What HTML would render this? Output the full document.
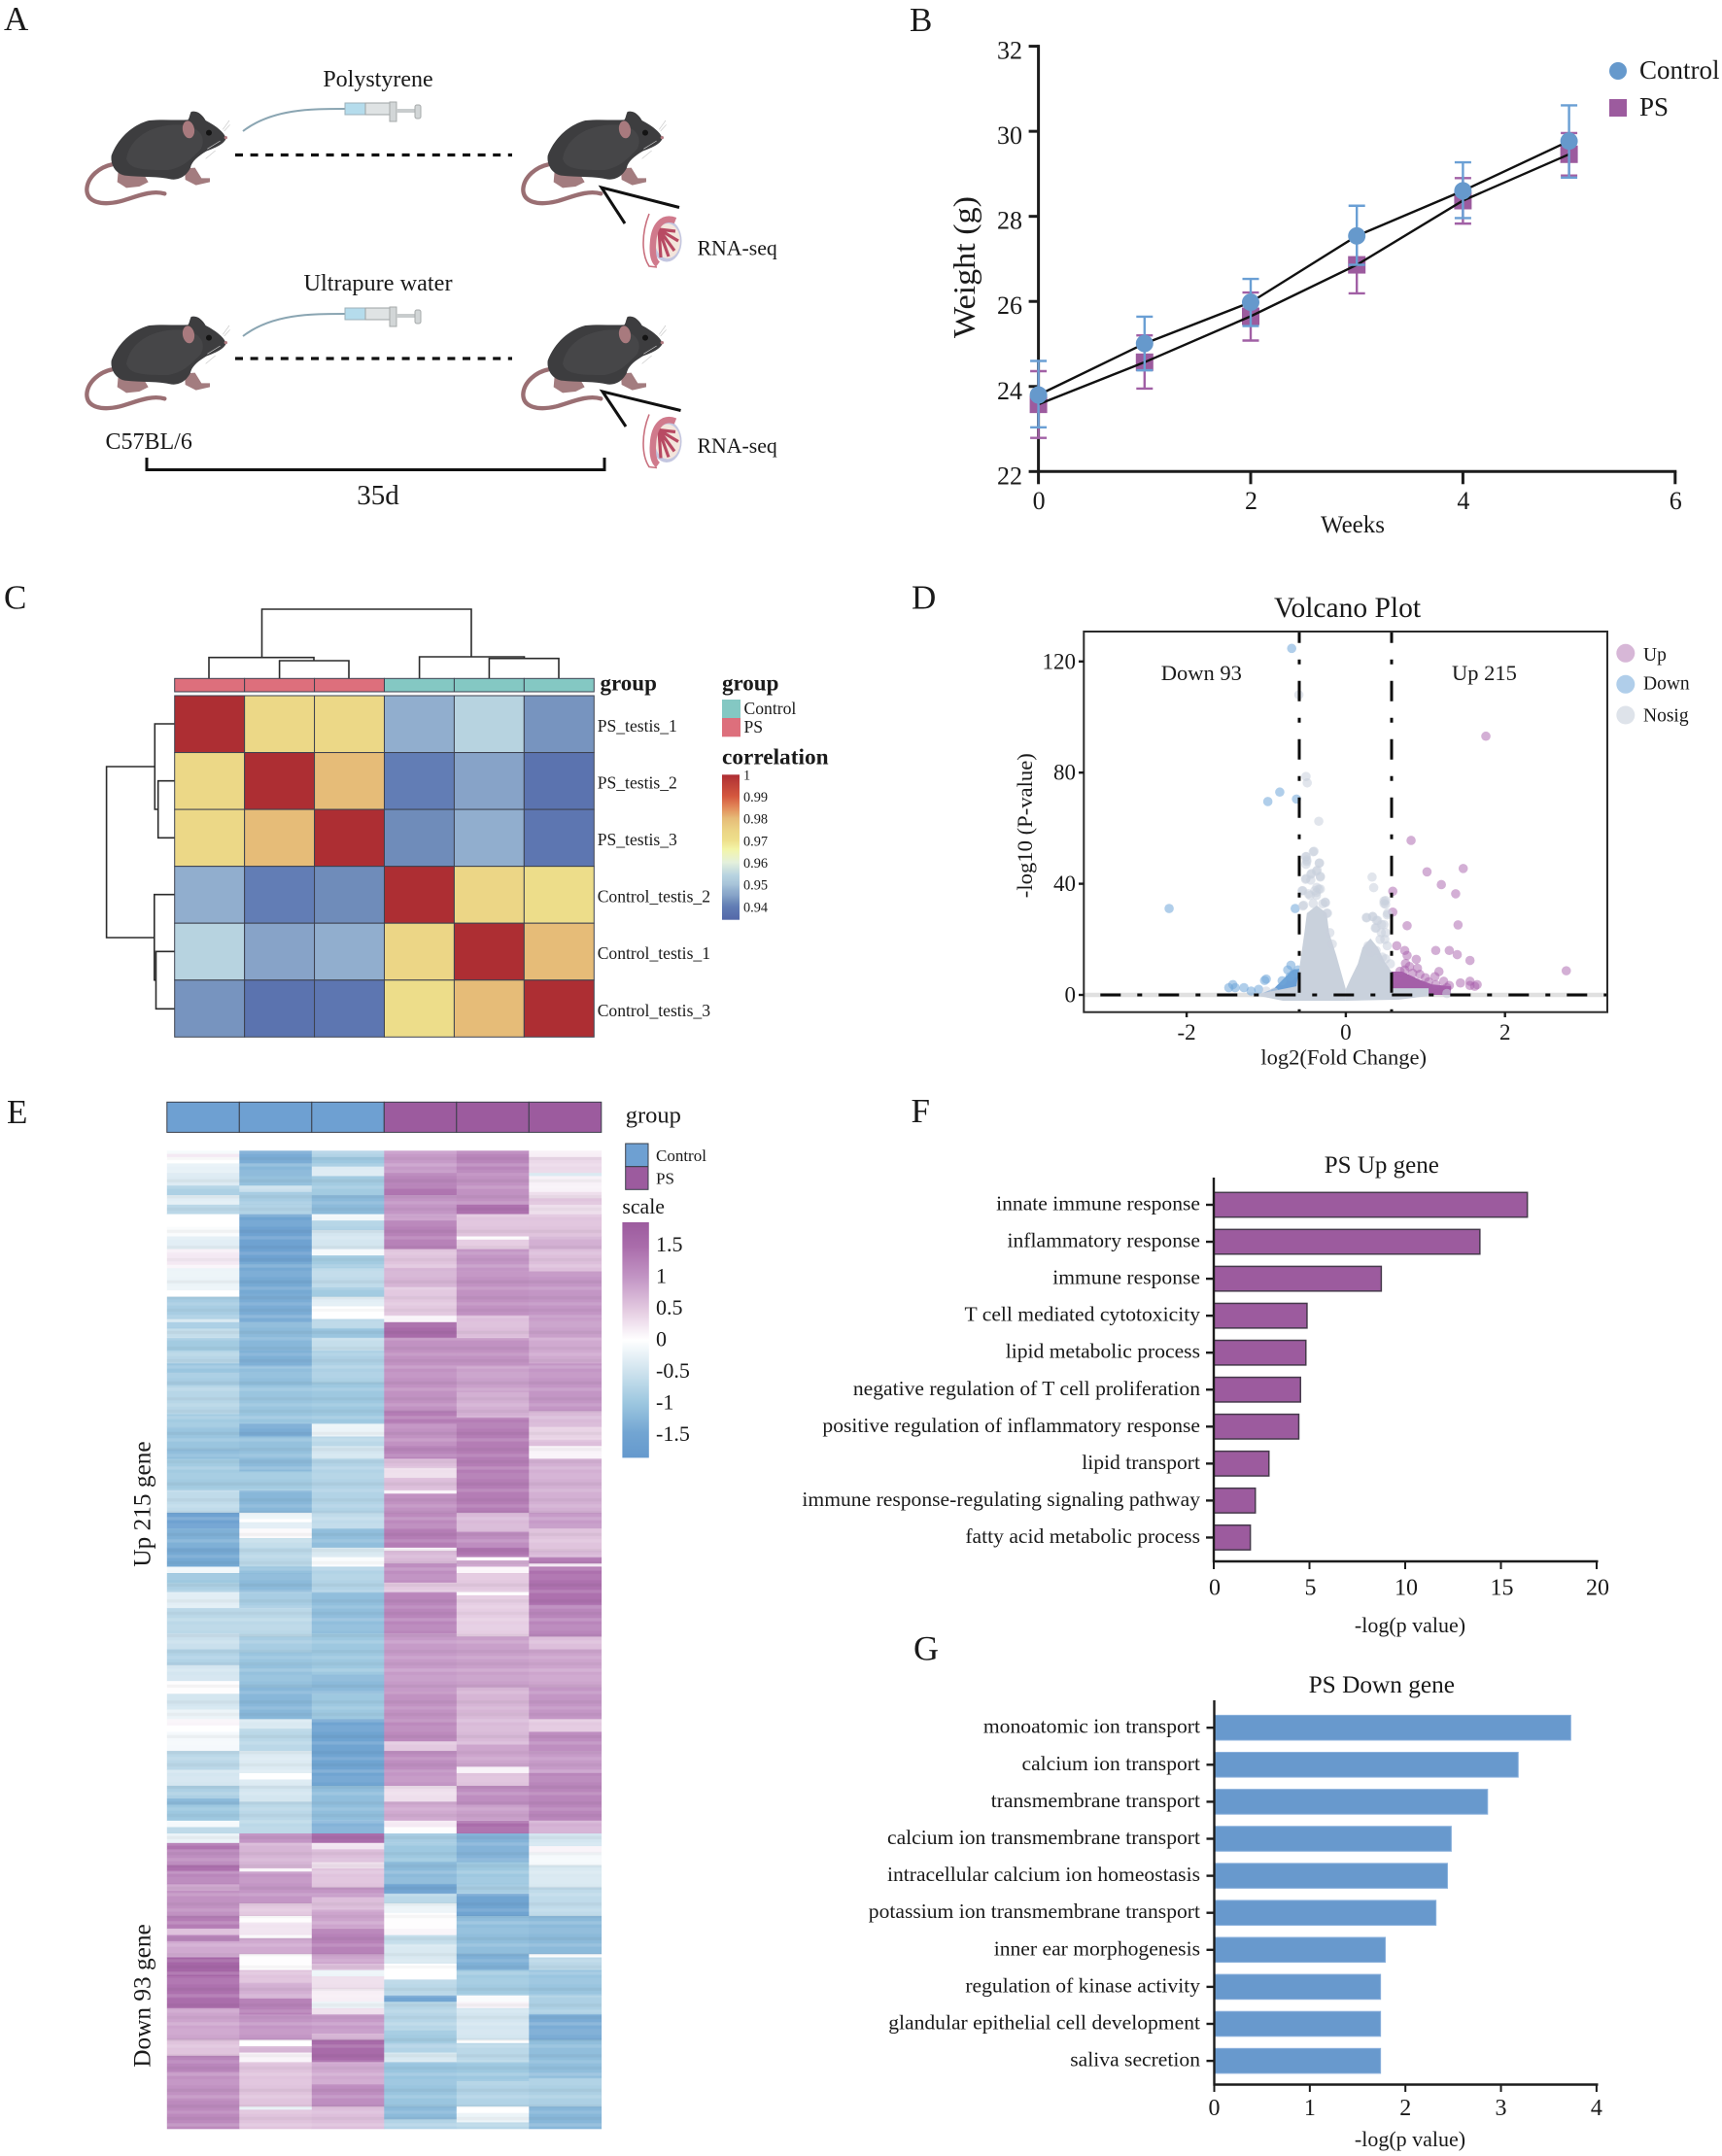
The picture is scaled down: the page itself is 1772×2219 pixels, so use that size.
<!DOCTYPE html>
<html lang="en">
<head>
<meta charset="utf-8">
<title>Polystyrene RNA-seq multi-panel figure</title>
<style>
html,body{margin:0;padding:0;background:#fff;}
svg{display:block;}
text{font-family:"Liberation Serif","Times New Roman",serif;fill:#1a1a1a;}
</style>
</head>
<body>
<svg id="fig" xmlns="http://www.w3.org/2000/svg" width="1772" height="2219" viewBox="0 0 1772 2219">
<defs>
  <g id="mouse">
    <path d="M105 208 C70 215 30 245 28 285 C28 325 75 335 130 322 C175 310 225 285 268 298" fill="none" stroke="#9a6f73" stroke-width="13" stroke-linecap="round"/>
    <path d="M125 228 L122 262 L150 280 L190 276 L218 262 L205 240 Z" fill="#a37c7f"/>
    <path d="M330 220 L332 255 L365 272 L408 262 L408 250 L382 250 L362 218 Z" fill="#a37c7f"/>
    <path d="M458 128 C455 112 430 90 395 72 C385 55 370 40 350 45 C345 55 345 65 340 70 C300 72 260 68 220 72 C170 85 125 125 104 180 C100 210 118 236 145 242 C200 248 250 244 290 254 C320 256 338 238 348 218 C352 198 372 182 397 167 C422 157 450 147 458 128 Z" fill="#3d3d3f"/>
    <path d="M150 190 C160 130 220 85 310 85 C370 85 400 120 380 160 C350 190 330 215 280 225 C210 225 160 225 150 190 Z" fill="#464648"/>
    <ellipse cx="342" cy="100" rx="18" ry="27" transform="rotate(-10 342 100)" fill="#a87a7e"/>
    <circle cx="405" cy="110" r="9" fill="#141414"/>
    <circle cx="457" cy="125" r="5" fill="#b07a80"/>
    <path d="M448 100 L468 72 M452 105 L470 85 M400 160 L440 135 M395 190 L425 165" stroke="#c9c9c9" stroke-width="2" fill="none"/>
  </g>
  <g id="syringe">
    <path d="M250 135 C280 112 320 112 355 112" fill="none" stroke="#8aa5b2" stroke-width="2"/>
    <rect x="355" y="106" width="21" height="12" fill="#b5dcec" stroke="#9db1ba"/>
    <rect x="376" y="106" width="25" height="12" fill="#dfe3e4" stroke="#9ea3a5"/>
    <rect x="401" y="105" width="7" height="20" fill="#d2d6d7" stroke="#a5a9aa"/>
    <rect x="408" y="112" width="19" height="4" fill="#c8cccd"/>
    <rect x="427" y="108" width="6" height="14" rx="2" fill="#d2d6d7" stroke="#a5a9aa"/>
  </g>
  <g id="testis">
    <path d="M668 220 C660 240 660 262 668 274 L676 275" fill="none" stroke="#c9717f" stroke-width="1.6"/>
    <ellipse cx="686" cy="248" rx="15.5" ry="21.5" fill="#c3c6e0"/>
    <ellipse cx="687" cy="248" rx="13" ry="18" fill="#f3e5dc"/>
    <path d="M678 236 L695 238 M678 236 L698 248 M678 236 L694 258 M678 236 L688 264 M678 236 L680 265" stroke="#b84a63" stroke-width="3.2" fill="none"/>
    <path d="M695 227 C682 222 673 232 672 250 C671 262 673 269 677 272" fill="none" stroke="#d07a8c" stroke-width="6.5"/>
  </g>
  <pattern id="streaks" patternUnits="userSpaceOnUse" x="0" y="1184.3" width="10" height="52">
    <rect x="0" y="0" width="10" height="3.3" fill="#fff" fill-opacity="0.1"/>
    <rect x="0" y="6.5" width="10" height="3.3" fill="#000" fill-opacity="0.03"/>
    <rect x="0" y="13" width="10" height="3.3" fill="#fff" fill-opacity="0.14"/>
    <rect x="0" y="19.6" width="10" height="6.5" fill="#fff" fill-opacity="0.06"/>
    <rect x="0" y="29.4" width="10" height="3.3" fill="#000" fill-opacity="0.04"/>
    <rect x="0" y="36" width="10" height="3.3" fill="#fff" fill-opacity="0.12"/>
    <rect x="0" y="45.8" width="10" height="3.3" fill="#000" fill-opacity="0.035"/>
  </pattern>
</defs>

<!-- PANEL A -->
<g id="panel-a">
  <text x="4" y="31" font-size="35">A</text>
  <use href="#mouse" transform="translate(80,100) scale(0.3333)"/>
  <use href="#mouse" transform="translate(529,100) scale(0.3333)"/>
  <use href="#mouse" transform="translate(80,311) scale(0.3333)"/>
  <use href="#mouse" transform="translate(529,311) scale(0.3333)"/>
  <use href="#syringe"/>
  <use href="#syringe" transform="translate(0,211)"/>
  <text x="389" y="89" font-size="24" text-anchor="middle">Polystyrene</text>
  <text x="389" y="299" font-size="24.3" text-anchor="middle">Ultrapure water</text>
  <line x1="242" y1="159.5" x2="527" y2="159.5" stroke="#111" stroke-width="3.2" stroke-dasharray="8 7.6"/>
  <line x1="242" y1="369" x2="527" y2="369" stroke="#111" stroke-width="3.2" stroke-dasharray="8 7.6"/>
  <path d="M699 213.5 L619 193 L643 230" fill="none" stroke="#111" stroke-width="3"/>
  <path d="M700.5 422.5 L620 403 L644 439" fill="none" stroke="#111" stroke-width="3"/>
  <use href="#testis"/>
  <use href="#testis" transform="translate(0,206.5)"/>
  <text x="717.5" y="262.5" font-size="21.8">RNA-seq</text>
  <text x="717.5" y="466" font-size="21.8">RNA-seq</text>
  <text x="108.5" y="462" font-size="24">C57BL/6</text>
  <path d="M151 471 V483.5 H622 V471" fill="none" stroke="#111" stroke-width="3"/>
  <text x="389" y="519" font-size="29" text-anchor="middle">35d</text>
</g>

<!-- PANEL B -->
<g id="panel-b">
  <text x="936" y="32" font-size="35">B</text>
  <text transform="translate(1003,275) rotate(-90)" font-size="32" text-anchor="middle" textLength="146" lengthAdjust="spacingAndGlyphs">Weight (g)</text>
  <text x="1392" y="548" font-size="25" text-anchor="middle">Weeks</text>
  <circle cx="1665" cy="73" r="9" fill="#6699cc"/>
  <rect x="1656" y="102" width="18" height="18" fill="#9c5b9e"/>
  <text x="1687" y="81" font-size="27">Control</text>
  <text x="1687" y="119" font-size="27">PS</text>
</g>

<!-- PANEL C -->
<g id="panel-c">
  <text x="4" y="626.7" font-size="35">C</text>
  <text x="617.5" y="710.7" font-size="23" font-weight="bold">group</text>
  <text x="743" y="710.7" font-size="23" font-weight="bold">group</text>
  <rect x="743" y="720" width="19" height="19" fill="#84c8c3"/>
  <rect x="743" y="739" width="19" height="19.3" fill="#dd6f7c"/>
  <text x="765.5" y="735" font-size="17.6">Control</text>
  <text x="765.5" y="754" font-size="17.6">PS</text>
  <text x="743" y="786.7" font-size="23.3" font-weight="bold">correlation</text>
  <g fill="none" stroke="#2b2b2b" stroke-width="1.6">
    <path d="M269.5 676.7 V627 H485 V675.7"/>
    <path d="M215 698.3 V676.7 H323 V680"/>
    <path d="M287.6 698.3 V680 H359 V698.3"/>
    <path d="M431.6 698.3 V676 H539.5 V677.7"/>
    <path d="M503.4 698.3 V677.7 H575 V698.3"/>
  </g>
  <g fill="none" stroke="#2b2b2b" stroke-width="1.6">
    <path d="M159.3 789 H109.6 V965 H158.8"/>
    <path d="M179.7 745 H159.3 V833 H162.7"/>
    <path d="M179.7 803.7 H162.7 V862.3 H179.7"/>
    <path d="M179.7 920.7 H158.8 V1008.7 H160.5"/>
    <path d="M179.7 979.3 H160.5 V1038.3 H179.7"/>
  </g>
</g>

<!-- PANEL D -->
<g id="panel-d">
  <text x="938" y="626.7" font-size="35">D</text>
  <text x="1386.5" y="635" font-size="29.5" text-anchor="middle">Volcano Plot</text>
  <text x="1194.8" y="700" font-size="22.5">Down 93</text>
  <text x="1494" y="700" font-size="22.5">Up 215</text>
  <text x="1382.7" y="1095.7" font-size="22.5" text-anchor="middle">log2(Fold Change)</text>
  <text transform="translate(1062,849.7) rotate(-90)" font-size="22" text-anchor="middle" textLength="149" lengthAdjust="spacingAndGlyphs">-log10 (P-value)</text>
  <circle cx="1672.8" cy="672.3" r="9.5" fill="#b070b0" fill-opacity="0.5"/>
  <circle cx="1672.8" cy="704.3" r="9.5" fill="#6fa5d8" fill-opacity="0.55"/>
  <circle cx="1672.8" cy="736" r="9.5" fill="#c8d0dc" fill-opacity="0.6"/>
  <text x="1691" y="680" font-size="19.5">Up</text>
  <text x="1691" y="709.3" font-size="19.5">Down</text>
  <text x="1691" y="742.7" font-size="19.5">Nosig</text>
</g>

<!-- PANEL E -->
<g id="panel-e">
  <text x="7" y="1156" font-size="35">E</text>
  <text x="643.7" y="1155.7" font-size="24.5">group</text>
  <rect x="643.7" y="1177" width="23.3" height="23.7" fill="#6ea0d2" stroke="#3a3f4a"/>
  <rect x="643.7" y="1200.7" width="23.3" height="23.6" fill="#9c5b9e" stroke="#3a3f4a"/>
  <text x="675" y="1195" font-size="17">Control</text>
  <text x="675" y="1218.6" font-size="17">PS</text>
  <text x="640.4" y="1249" font-size="21.8">scale</text>
  <text transform="translate(154.7,1548) rotate(-90)" font-size="25.3" text-anchor="middle">Up 215 gene</text>
  <text transform="translate(154.7,2054) rotate(-90)" font-size="25.3" text-anchor="middle">Down 93 gene</text>
</g>

<!-- PANEL F -->
<g id="panel-f">
  <text x="937.5" y="1155" font-size="35">F</text>
  <text x="1421.8" y="1207" font-size="25" text-anchor="middle">PS Up gene</text>
  <text x="1451" y="1680" font-size="22" text-anchor="middle">-log(p value)</text>
</g>

<!-- PANEL G -->
<g id="panel-g">
  <text x="940" y="1708.5" font-size="36">G</text>
  <text x="1421.8" y="1741.8" font-size="25.3" text-anchor="middle">PS Down gene</text>
  <text x="1451" y="2209" font-size="22" text-anchor="middle">-log(p value)</text>
</g>
</svg>

<script>
/* ===== Panel B data ===== */
const weeks = [0, 1, 2, 3, 4, 5];
const controlMean = [23.8, 25.01, 25.98, 27.54, 28.6, 29.77];
const controlUpper = [24.6, 25.64, 26.53, 28.25, 29.27, 30.61];
const controlLower = [23.04, 24.38, 25.42, 26.86, 27.96, 28.91];
const psMean = [23.58, 24.57, 25.65, 26.86, 28.37, 29.46];
const psUpper = [24.36, 25.2, 26.21, 27.53, 28.9, 29.96];
const psLower = [22.79, 23.95, 25.08, 26.19, 27.83, 28.96];
const weightTicks = [22, 24, 26, 28, 30, 32];
const weekTicks = [0, 2, 4, 6];

/* ===== Panel C data ===== */
const corrSamples = ['PS_testis_1', 'PS_testis_2', 'PS_testis_3', 'Control_testis_2', 'Control_testis_1', 'Control_testis_3'];
const corrGroups = ['PS', 'PS', 'PS', 'Control', 'Control', 'Control'];
const corrRow1 = [1, 0.973, 0.973, 0.947, 0.954, 0.943];
const corrRow2 = [0.973, 1, 0.98, 0.94, 0.945, 0.937];
const corrRow3 = [0.973, 0.98, 1, 0.942, 0.947, 0.938];
const corrRow4 = [0.947, 0.94, 0.942, 1, 0.974, 0.971];
const corrRow5 = [0.954, 0.945, 0.947, 0.974, 1, 0.98];
const corrRow6 = [0.943, 0.937, 0.938, 0.971, 0.98, 1];
const corrTicks = [1, 0.99, 0.98, 0.97, 0.96, 0.95, 0.94];

/* ===== Panel D data ===== */
const upFC = [1.76, 0.82, 1.02, 1.475, 1.2, 1.38, 0.59, 0.59, 0.77, 1.41, 2.77, 0.64, 0.74, 1.13, 1.3, 1.4, 1.56, 0.77, 0.885, 0.75, 0.9, 0.74, 0.84, 1.17, 1.12, 1.23, 1.44, 1.56, 1.65, 1.56, 1.3, 1.04, 1.27, 1.62, 1.13, 0.64, 0.68, 0.8, 0.93, 1.0];
const upP = [93.1, 55.6, 44.3, 45.5, 39.7, 36.4, 37.3, 29.8, 24.9, 25.2, 8.7, 17.7, 16, 16, 16, 14.5, 12.4, 14.2, 12.8, 11.3, 9.6, 9, 7.8, 8.4, 6.6, 4.9, 4.3, 4.9, 3.7, 3.4, 3.4, 4.7, 2.6, 3.1, 3.7, 5.5, 8.5, 10.2, 7.4, 6.2];
const downFC = [-0.68, -0.83, -0.98, -0.62, -2.22, -0.636, -0.69, -0.73, -1, -1.02, -0.8, -1.42, -1.47, -1.39, -1.28, -1.19, -1.095, -0.7, -0.65, -0.6];
const downP = [124.7, 73, 69.6, 70.5, 31.1, 31.1, 10.7, 9, 5.7, 5.2, 5.1, 3.7, 2.6, 2.6, 2.6, 1.4, 2, 6.6, 7.8, 9];
const nosigFC = [-0.59, -0.5, -0.485, -0.34, -0.41, -0.5, -0.49, -0.335, -0.37, -0.44, -0.32, -0.505, -0.55, -0.34, -0.37, -0.47, -0.54, -0.255, -0.41, -0.24, 0.33, 0.35, 0.48, 0.5, 0.525, 0.26, 0.335, 0.385, 0.48, 0.38, 0.445, 0.49, 0.28, 0.31, 1.27, -1, -0.9, -0.4, -0.5, -0.49, -0.5, -0.33, -0.36, -0.43, -0.32, -0.5, -0.44, -0.365, -0.32, -0.39, -0.37, -0.45, -0.54, -0.26, -0.53, -0.29, -0.23, -0.2, -0.17, 0.26, 0.34, 0.4, 0.37, 0.45, 0.52, 0.5, 0.48, 0.5, 0.43, 0.52, 0.38, 0.5, 0.56, 0.46];
const nosigP = [108, 78.6, 76.3, 62.5, 51.5, 49.8, 48, 47.4, 44.5, 43.4, 42.4, 41.6, 37.5, 38.1, 36.9, 36.4, 32, 33.2, 32.9, 29.4, 42.4, 38.6, 33.8, 32.6, 29.4, 27.9, 28.2, 26.8, 25.3, 24.1, 22.4, 20, 17.7, 15.4, 0.5, 1.4, 1, 51.7, 49.7, 48.6, 47, 47.5, 44.9, 43.7, 42.7, 41.9, 41.3, 38.7, 38.1, 37.5, 35.8, 35.8, 37.5, 33.4, 32.3, 32.8, 29.4, 22.4, 18.3, 27.7, 28.2, 26.8, 24.1, 25.3, 28.8, 34, 32.9, 22.4, 20, 17.7, 16, 13, 11.2, 13.6];
/* outlines of the overplotted dense point clouds */
const denseLeftFC = [0, -0.12, -0.21, -0.24, -0.365, -0.49, -0.52, -0.585, -0.62, -1.16, -0.79, 0];
const denseLeftP = [2.1, 14.3, 22.4, 29.4, 32.2, 29.4, 22.4, 9.4, 3.1, 0, -2.1, -2.1];
const denseRightFC = [0, 0.06, 0.15, 0.21, 0.31, 0.4, 0.49, 0.575, 0.575, 1.04, 1.04, 0.67, 0];
const denseRightP = [2.1, 5.9, 11.2, 17.1, 20.3, 17.1, 11.9, 8.4, 2.4, 2.4, -0.35, -1.7, -2.1];
const denseUpFC = [0.575, 0.71, 0.92, 1.08, 1.32, 1.32, 0.575];
const denseUpP = [8.4, 8.4, 5.6, 3.8, 3.1, 0, 0];
const denseDownFC = [-0.585, -0.67, -0.79, -0.9, -1.04, -0.585];
const denseDownP = [9.4, 9, 5.6, 2.4, 0.7, 0];
const fcThresholds = [-0.585, 0.575];
const volcanoXTicks = [-2, 0, 2];
const volcanoYTicks = [0, 40, 80, 120];

/* ===== Panel E data: [last gene row of run, z-score] ===== */
const heatGroups = ['Control', 'Control', 'Control', 'PS', 'PS', 'PS'];
const geneCount = 308;
const scaleTicks = [1.5, 1, 0.5, 0, -0.5, -1, -1.5];
const heatCol1 = [[1,-.1],[2,.2],[4,0],[7,-.25],[11,-.35],[14,-.85],[17,-.3],[20,-.7],[24,0],[27,-.05],[31,-.3],[32,.12],[36,.2],[37,.1],[44,-.2],[46,0],[53,-.9],[54,-.4],[56,-.9],[59,-.6],[63,-.95],[67,-.75],[70,-1.05],[74,-.9],[83,-.75],[87,-.95],[94,-1.05],[97,-1.15],[100,-.95],[107,-.95],[114,-.65],[119,-1.6],[125,-1.35],[131,-1.45],[133,-.15],[136,-1],[139,-.85],[144,-.3],[152,-.7],[157,-.55],[162,-.8],[167,-.45],[171,.02],[176,-.45],[179,-.2],[181,.1],[183,0],[189,-.1],[195,-.7],[200,-.45],[204,-.85],[206,-1.2],[211,-1],[213,-.1],[215,-.7],[218,-.2],[220,1.4],[225,1.1],[227,1.45],[231,1.2],[233,.8],[241,1.05],[245,1.3],[247,.6],[249,1.2],[254,.8],[260,1.65],[267,1.45],[270,1.5],[280,.85],[285,.55],[290,1.2],[299,1.05],[308,1.15]];
const heatCol2 = [[4,-1.4],[8,-1.25],[11,-1.1],[13,-.55],[17,-.9],[20,-.8],[24,-1.55],[35,-1.6],[45,-1.45],[54,-1.4],[59,-1.2],[63,-1.25],[68,-1.35],[74,-1.15],[86,-1.05],[90,-1.4],[97,-1.1],[101,-1.2],[107,-.95],[114,-1.25],[116,-.2],[117,0],[119,-.3],[122,.05],[125,-.6],[131,-.7],[133,-1.1],[139,-1.2],[144,-.9],[153,-.7],[158,-.9],[162,-1.05],[169,-1.1],[179,-1.25],[182,-.4],[189,-.7],[196,-.35],[198,0],[200,-.35],[205,-.45],[215,-.7],[218,1],[226,.7],[227,.1],[237,1],[241,.5],[243,.02],[247,.25],[248,.05],[253,.8],[258,.02],[262,.55],[267,.75],[272,1.25],[280,1],[282,0],[284,.7],[287,.1],[301,.55],[302,-.2],[308,.55]];
const heatCol3 = [[2,-.8],[5,-1],[8,-.35],[14,-.95],[20,-1.2],[22,-.15],[25,-.8],[31,-.45],[33,-.1],[37,-.95],[43,-.65],[46,-.95],[49,-.3],[53,0],[56,-.7],[59,-1.05],[63,-.6],[73,-.85],[86,-1],[90,-.2],[93,-.7],[97,-.45],[114,-.8],[119,-.65],[125,-1.15],[128,-.4],[131,-.05],[139,-.8],[152,-1.15],[165,-1],[171,-1.2],[179,-1],[200,-1.55],[211,-1.15],[215,-1.3],[218,1.5],[220,.25],[224,.6],[226,.3],[232,.55],[235,1],[239,.6],[245,.85],[253,1.25],[256,.85],[258,.6],[260,-.2],[264,.3],[268,.15],[270,-.2],[272,.3],[278,.95],[280,.7],[287,1.55],[294,.8],[301,1.1],[308,.6]];
const heatCol4 = [[7,.95],[11,1.2],[14,1.4],[21,1],[22,.85],[31,1.25],[37,.55],[43,.7],[52,.5],[54,.1],[59,1.55],[82,1.05],[86,1.3],[93,1.05],[97,1.2],[100,.6],[103,.3],[107,.6],[108,.1],[114,1.05],[119,1.15],[125,1.3],[126,.1],[130,.65],[136,1.1],[139,.5],[152,1.2],[170,.95],[179,1.05],[186,1.15],[189,.5],[196,1.1],[200,1],[205,.3],[211,.8],[213,.2],[215,.02],[218,-.9],[224,-1],[231,-1.2],[234,-1.5],[237,-.7],[240,-.2],[245,.02],[247,.1],[250,-.6],[256,-.4],[261,0],[266,-.7],[268,-1.5],[277,-.75],[281,-.95],[284,-.8],[287,-.4],[301,-1.05],[305,-1.2],[308,-.8]];
const heatCol5 = [[7,1.2],[17,1.05],[20,1.45],[27,.55],[28,.05],[31,.45],[38,1],[52,1.05],[59,.6],[68,1.05],[76,.9],[84,.75],[114,1.3],[120,.65],[125,1.1],[128,1.4],[129,0],[131,.8],[133,.08],[139,.5],[140,.02],[153,.45],[169,.9],[177,.7],[187,.65],[194,.85],[196,.12],[200,.55],[206,1.1],[211,.9],[215,1.5],[224,-1.3],[231,-1],[234,-.9],[241,-1.55],[253,-1.15],[258,-1.35],[266,-.95],[268,-.05],[270,.1],[280,-.45],[281,0],[287,-.7],[293,-1],[301,-.8],[303,0],[306,-.2],[308,-.75]];
const heatCol6 = [[2,.15],[7,.35],[8,-.4],[13,.12],[15,.3],[17,.55],[20,.3],[27,.55],[31,.75],[38,.6],[53,1],[59,.9],[67,.8],[82,1],[87,.65],[91,.4],[93,.6],[97,.1],[114,.75],[119,.95],[126,.55],[128,.65],[130,1.3],[131,.2],[143,1.45],[153,1.2],[157,.6],[169,.85],[179,1],[183,.5],[189,1.1],[196,.95],[211,1.2],[215,.75],[219,-.45],[221,.1],[225,-.1],[232,-.4],[241,-.65],[253,-1.2],[254,0],[258,-.7],[266,-1.05],[272,-.85],[280,-1.4],[292,-1.15],[301,-.85],[308,-1.25]];

/* ===== Panel F / G data ===== */
const upTerms = ['innate immune response', 'inflammatory response', 'immune response', 'T cell mediated cytotoxicity', 'lipid metabolic process', 'negative regulation of T cell proliferation', 'positive regulation of inflammatory response', 'lipid transport', 'immune response-regulating signaling pathway', 'fatty acid metabolic process'];
const upValues = [16.38, 13.9, 8.75, 4.87, 4.81, 4.53, 4.44, 2.88, 2.17, 1.91];
const upTicks = [0, 5, 10, 15, 20];
const downTerms = ['monoatomic ion transport', 'calcium ion transport', 'transmembrane transport', 'calcium ion transmembrane transport', 'intracellular calcium ion homeostasis', 'potassium ion transmembrane transport', 'inner ear morphogenesis', 'regulation of kinase activity', 'glandular epithelial cell development', 'saliva secretion'];
const downValues = [3.73, 3.18, 2.86, 2.48, 2.44, 2.32, 1.79, 1.74, 1.74, 1.74];
const downTicks = [0, 1, 2, 3, 4];

/* ===== helpers ===== */
const NS = 'http://www.w3.org/2000/svg';
const svg = document.getElementById('fig');
function add(parent, tag, attrs, txt) {
  const el = document.createElementNS(NS, tag);
  for (const k in attrs) el.setAttribute(k, attrs[k]);
  if (txt !== undefined) el.textContent = txt;
  parent.appendChild(el);
  return el;
}
function hexRgb(h) { return [parseInt(h.slice(1, 3), 16), parseInt(h.slice(3, 5), 16), parseInt(h.slice(5, 7), 16)]; }
function ramp(stops, colors, v) {
  if (v <= stops[0]) return colors[0];
  for (let i = 1; i < stops.length; i++) {
    if (v <= stops[i]) {
      const t = (v - stops[i - 1]) / (stops[i] - stops[i - 1]);
      const a = hexRgb(colors[i - 1]), b = hexRgb(colors[i]);
      return 'rgb(' + a.map((c, j) => Math.round(c + (b[j] - c) * t)).join(',') + ')';
    }
  }
  return colors[colors.length - 1];
}
function polyPoints(xs, ys, fx, fy) { return xs.map((x, i) => fx(x).toFixed(1) + ',' + fy(ys[i]).toFixed(1)).join(' '); }

/* ===== Panel B ===== */
(function () {
  const g = document.getElementById('panel-b');
  const bx = v => 1068.6 + v * 109.2;
  const by = v => 485.3 - (v - 22) * 43.77;
  const axisY = add(g, 'line', { x1: bx(0), y1: by(32) - 1.5, x2: bx(0), y2: by(22) + 1.5, stroke: '#1c1c1c', 'stroke-width': 3 });
  
  
  const axisX = add(g, 'line', { x1: bx(0), y1: by(22), x2: bx(6) + 1.5, y2: by(22), stroke: '#1c1c1c', 'stroke-width': 3 });
  
  
  weightTicks.forEach(v => {
    const t = add(g, 'line', { x1: bx(0) - 10, y1: by(v), x2: bx(0), y2: by(v), stroke: '#1c1c1c', 'stroke-width': 3 });
    
    
    const l = add(g, 'text', { x: 1052, y: by(v) + 13, 'font-size': 26, 'text-anchor': 'end' }, v);
    
    
  });
  weekTicks.forEach(v => {
    const t = add(g, 'line', { x1: bx(v), y1: by(22), x2: bx(v), y2: by(22) + 13, stroke: '#1c1c1c', 'stroke-width': 3 });
    
    
    const l = add(g, 'text', { x: bx(v) + 0.5, y: 524, 'font-size': 26, 'text-anchor': 'middle' }, v);
    
    
  });
  const drawErr = (i, up, lo, col) => {
    const p = add(g, 'path', { d: 'M' + (bx(weeks[i]) - 8.5) + ' ' + by(up[i]) + 'h17M' + bx(weeks[i]) + ' ' + by(up[i]) + 'V' + by(lo[i]) + 'M' + (bx(weeks[i]) - 8.5) + ' ' + by(lo[i]) + 'h17', fill: 'none', stroke: col, 'stroke-width': 2.4 });
    return p;
  };
  weeks.forEach((w, i) => {
    const e = drawErr(i, psUpper, psLower, '#a160a5');
    
    
    const s = add(g, 'rect', { x: bx(w) - 9, y: by(psMean[i]) - 9, width: 18, height: 18, fill: '#9c5b9e' });
    
    
  });
  const lineP = add(g, 'polyline', { points: polyPoints(weeks, psMean, bx, by), fill: 'none', stroke: '#111', 'stroke-width': 2.4 });
  
  
  const lineC = add(g, 'polyline', { points: polyPoints(weeks, controlMean, bx, by), fill: 'none', stroke: '#111', 'stroke-width': 2.4 });
  
  
  weeks.forEach((w, i) => {
    const e = drawErr(i, controlUpper, controlLower, '#6a9fd4');
    
    
    const c = add(g, 'circle', { cx: bx(w), cy: by(controlMean[i]), r: 9, fill: '#6699cc' });
    
    
  });
})();

/* ===== Panel C ===== */
(function () {
  const g = document.getElementById('panel-c');
  const corrStops = [0.9338, 0.94, 0.942, 0.945, 0.947, 0.95, 0.954, 0.96, 0.966, 0.97, 0.975, 0.98, 0.985, 0.99, 1];
  const corrColors = ['#5468a8', '#627db5', '#6f8cba', '#87a3c8', '#91aece', '#a8c4d9', '#b7d3e0', '#e4f0dc', '#f3f5a8', '#eee08c', '#ebd384', '#e6bc78', '#e28a5a', '#d5593f', '#ad2e33'];
  const matrix = [corrRow1, corrRow2, corrRow3, corrRow4, corrRow5, corrRow6];
  const cx = j => 179.7 + j * 71.93;
  const cy = i => 716 + i * 58.55;
  const groupColor = { PS: '#dd6f7c', Control: '#84c8c3' };
  corrGroups.forEach((name, j) => {
    const r = add(g, 'rect', { x: cx(j), y: 698.3, width: 71.93, height: 13.7, fill: groupColor[name], stroke: '#3d4250', 'stroke-width': 1 });
    
    
  });
  matrix.forEach((row, i) => {
    row.forEach((v, j) => {
      const r = add(g, 'rect', { x: cx(j), y: cy(i), width: 71.93, height: 58.55, fill: ramp(corrStops, corrColors, v), stroke: '#3d4250', 'stroke-width': 1 });
      
      
    });
    const l = add(g, 'text', { x: 614.7, y: cy(i) + 37, 'font-size': 17.6 }, corrSamples[i]);
    
    
  });
  const defs = svg.querySelector('defs');
  const grad = add(defs, 'linearGradient', { id: 'corr-grad', x1: 0, y1: 1, x2: 0, y2: 0 });
  corrStops.forEach((s, i) => add(grad, 'stop', { offset: ((s - 0.9338) / (1 - 0.9338)).toFixed(4), 'stop-color': corrColors[i] }));
  const bar = add(g, 'rect', { x: 743, y: 797.3, width: 18, height: 149.4, fill: 'url(#corr-grad)' });
  
  
  corrTicks.forEach(v => {
    const yy = 797.3 + (1 - v) * 2267;
    const l = add(g, 'text', { x: 765, y: yy + 5, 'font-size': 14.3 }, v);
    
    
  });
})();

/* ===== Panel D ===== */
(function () {
  const g = document.getElementById('panel-d');
  const vx = v => 1384.9 + v * 81.9;
  const vy = v => 1024 - v * 2.86;
  const band = add(g, 'line', { x1: 1115.3, y1: vy(0), x2: 1654, y2: vy(0), stroke: '#e0e0e0', 'stroke-width': 4.5 });
  
  
  const mDown = add(g, 'polygon', { points: polyPoints(denseDownFC, denseDownP, vx, vy), fill: '#6a9fd6' });
  
  
  const mUp = add(g, 'polygon', { points: polyPoints(denseUpFC, denseUpP, vx, vy), fill: '#a45fa8' });
  
  
  upFC.forEach((x, i) => {
    const c = add(g, 'circle', { cx: vx(x), cy: vy(upP[i]), r: 4.8, fill: '#a860ac', 'fill-opacity': 0.5 });
    
    
  });
  downFC.forEach((x, i) => {
    const c = add(g, 'circle', { cx: vx(x), cy: vy(downP[i]), r: 4.8, fill: '#6fa5d8', 'fill-opacity': 0.55 });
    
    
  });
  const mLeft = add(g, 'polygon', { points: polyPoints(denseLeftFC, denseLeftP, vx, vy), fill: '#c9d1dc' });
  
  
  const mRight = add(g, 'polygon', { points: polyPoints(denseRightFC, denseRightP, vx, vy), fill: '#c9d1dc' });
  
  
  nosigFC.forEach((x, i) => {
    const c = add(g, 'circle', { cx: vx(x), cy: vy(nosigP[i]), r: 4.8, fill: '#c8d0dc', 'fill-opacity': 0.55 });
    
    
  });
  fcThresholds.forEach(t => {
    const l = add(g, 'line', { x1: vx(t), y1: 650, x2: vx(t), y2: 1041.7, stroke: '#0c0c0c', 'stroke-width': 3, 'stroke-dasharray': '21 17 5 17', 'stroke-dashoffset': 9.3 });
    
    
  });
  const h = add(g, 'line', { x1: 1115.3, y1: vy(0), x2: 1654, y2: vy(0), stroke: '#0c0c0c', 'stroke-width': 3, 'stroke-dasharray': '21 17 5 17', 'stroke-dashoffset': 43 });
  
  
  const frame = add(g, 'rect', { x: 1115.3, y: 650, width: 538.7, height: 391.7, fill: 'none', stroke: '#2a2a2a', 'stroke-width': 2 });
  
  
  volcanoXTicks.forEach(v => {
    const t = add(g, 'line', { x1: vx(v), y1: 1041.7, x2: vx(v), y2: 1047, stroke: '#1c1c1c', 'stroke-width': 2.4 });
    
    
    const l = add(g, 'text', { x: vx(v), y: 1070, 'font-size': 23, 'text-anchor': 'middle' }, v);
    
    
  });
  volcanoYTicks.forEach(v => {
    const t = add(g, 'line', { x1: 1110, y1: vy(v), x2: 1115.3, y2: vy(v), stroke: '#1c1c1c', 'stroke-width': 2.4 });
    
    
    const l = add(g, 'text', { x: 1107, y: vy(v) + 7.5, 'font-size': 23, 'text-anchor': 'end' }, v);
    
    
  });
})();

/* ===== Panel E ===== */
(function () {
  const g = document.getElementById('panel-e');
  const zStops = [-1.9, -1.5, -1, -0.5, 0, 0.5, 1, 1.5, 1.9];
  const zColors = ['#6599cd', '#72a5d2', '#9ec8e0', '#cfe3ee', '#ffffff', '#e3c9e0', '#c396c5', '#aa6dab', '#9c5b9e'];
  const colW = 74.5;
  const hx = j => 171.8 + j * colW;
  const hy = row => 1184.3 + row * (1006.7 / geneCount);
  const groupColor = { Control: '#6ea0d2', PS: '#9c5b9e' };
  heatGroups.forEach((name, j) => {
    const r = add(g, 'rect', { x: hx(j), y: 1134.3, width: colW, height: 31.1, fill: groupColor[name], stroke: '#3a3f4a', 'stroke-width': 1 });
    
    
  });
  [heatCol1, heatCol2, heatCol3, heatCol4, heatCol5, heatCol6].forEach((col, j) => {
    let start = 0;
    col.forEach(run => {
      const r = add(g, 'rect', { x: hx(j), y: hy(start), width: colW + 0.3, height: hy(run[0]) - hy(start) + 0.3, fill: ramp(zStops, zColors, run[1]) });
      
      
      start = run[0];
    });
  });
  const tex = add(g, 'rect', { x: hx(0), y: hy(0), width: colW * 6, height: hy(geneCount) - hy(0), fill: 'url(#streaks)' });
  
  
  const defs = svg.querySelector('defs');
  const grad = add(defs, 'linearGradient', { id: 'z-grad', x1: 0, y1: 1, x2: 0, y2: 0 });
  zStops.forEach((s, i) => add(grad, 'stop', { offset: ((s + 1.9) / 3.8).toFixed(4), 'stop-color': zColors[i] }));
  const bar = add(g, 'rect', { x: 640.4, y: 1258, width: 27.4, height: 242.4, fill: 'url(#z-grad)' });
  
  
  scaleTicks.forEach(v => {
    const l = add(g, 'text', { x: 675, y: 1378 - v * 65 + 7.5, 'font-size': 22 }, v);
    
    
  });
})();

/* ===== Panels F and G ===== */
(function () {
  const f = document.getElementById('panel-f');
  const fx = v => 1249 + v * 19.7;
  const fy = i => 1240 + i * 38.05;
  upValues.forEach((v, i) => {
    const r = add(f, 'rect', { x: fx(0), y: fy(i) - 12.7, width: fx(v) - fx(0), height: 25.4, fill: '#9c5b9e', stroke: '#463a4c', 'stroke-width': 1.5 });
    
    
    const t = add(f, 'line', { x1: fx(0) - 8, y1: fy(i), x2: fx(0), y2: fy(i), stroke: '#1c1c1c', 'stroke-width': 2.4 });
    
    
    const l = add(f, 'text', { x: 1235, y: fy(i) + 5.5, 'font-size': 21.6, 'text-anchor': 'end' }, upTerms[i]);
    
    
  });
  const fAxes = add(f, 'path', { d: 'M' + fx(0) + ' 1212 V1607 H1644.5', fill: 'none', stroke: '#1c1c1c', 'stroke-width': 2.4 });
  
  
  upTicks.forEach(v => {
    const t = add(f, 'line', { x1: fx(v), y1: 1607, x2: fx(v), y2: 1615, stroke: '#1c1c1c', 'stroke-width': 2 });
    
    
    const l = add(f, 'text', { x: fx(v) + 1, y: 1641.6, 'font-size': 24, 'text-anchor': 'middle' }, v);
    
    
  });

  const h = document.getElementById('panel-g');
  const gx = v => 1249.5 + v * 98.35;
  const gy = i => 1778.2 + i * 38.1;
  downValues.forEach((v, i) => {
    const r = add(h, 'rect', { x: gx(0), y: gy(i) - 12.8, width: gx(v) - gx(0), height: 25.6, fill: '#6899cd', stroke: '#8ab0dc', 'stroke-width': 1 });
    
    
    const t = add(h, 'line', { x1: gx(0) - 8, y1: gy(i), x2: gx(0), y2: gy(i), stroke: '#1c1c1c', 'stroke-width': 2.4 });
    
    
    const l = add(h, 'text', { x: 1235, y: gy(i) + 5.5, 'font-size': 21.6, 'text-anchor': 'end' }, downTerms[i]);
    
    
  });
  const gAxes = add(h, 'path', { d: 'M' + gx(0) + ' 1750 V2145.5 H1644.5', fill: 'none', stroke: '#1c1c1c', 'stroke-width': 2.4 });
  
  
  downTicks.forEach(v => {
    const t = add(h, 'line', { x1: gx(v), y1: 2145.5, x2: gx(v), y2: 2153, stroke: '#1c1c1c', 'stroke-width': 2 });
    
    
    const l = add(h, 'text', { x: gx(v), y: 2177, 'font-size': 24, 'text-anchor': 'middle' }, v);
    
    
  });
})();
</script>
</body>
</html>
